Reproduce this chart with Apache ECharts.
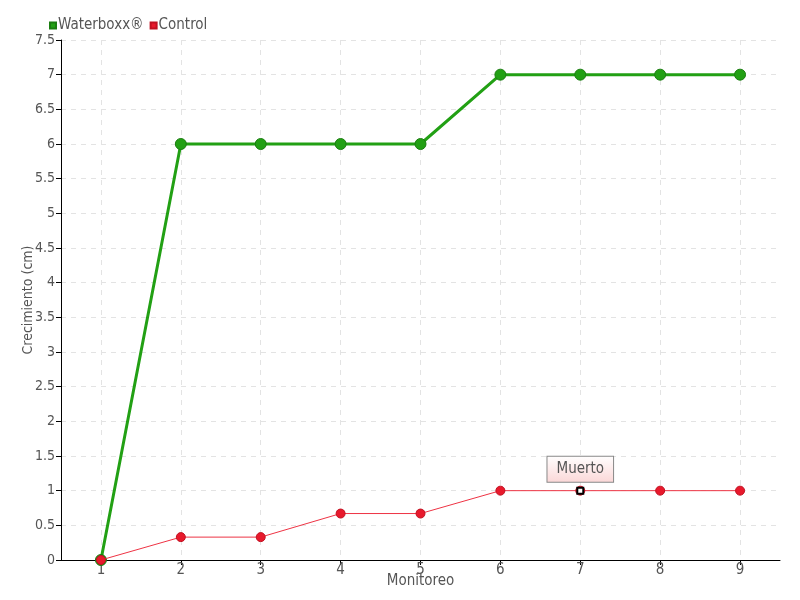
<!DOCTYPE html>
<html><head><meta charset="utf-8">
<script src="https://cdn.jsdelivr.net/npm/echarts@6/dist/echarts.min.js"></script>
<style>html,body{margin:0;padding:0;background:#fff}#c{width:800px;height:600px}</style>
</head><body><div id="c"></div>
<script>
const monitoreo = [1, 2, 3, 4, 5, 6, 7, 8, 9];
const waterboxx = [0, 6, 6, 6, 6, 7, 7, 7, 7];
const control = [0, 0.33, 0.33, 0.67, 0.67, 1, 1, 1, 1];
const note = { label: 'Muerto', x: 7, y: 1 };

const font = '"Liberation Sans Narrow", "DejaVu Sans Condensed", "DejaVu Sans", sans-serif';
const chart = echarts.init(document.getElementById('c'));
const pair = (arr) => arr.map((v, i) => [monitoreo[i], v]);
chart.setOption({
  animation: false,
  textStyle: { fontFamily: font },
  legend: {
    left: 44, top: 13, itemWidth: 6, itemHeight: 6, itemGap: 6,
    icon: 'rect',
    textStyle: { color: '#555', fontSize: 15, fontFamily: font, padding: [0, 0, 0, -3] },
    data: ['Waterboxx®', 'Control']
  },
  grid: { left: 61, right: 20, top: 40, bottom: 40, containLabel: false },
  xAxis: {
    type: 'value', min: 0.5, max: 9.5,
    name: 'Monitoreo', nameLocation: 'middle', nameGap: 14, nameMoveOverlap: false,
    nameTextStyle: { color: '#555', fontSize: 15, fontFamily: font },
    axisLine: { lineStyle: { color: '#000' } },
    axisTick: { customValues: monitoreo, length: 5, lineStyle: { color: '#000' } },
    axisLabel: { customValues: monitoreo, color: '#555', fontSize: 15, margin: 3, fontFamily: font },
    splitLine: { show: true, lineStyle: { color: '#e3e3e3', type: [5, 5] } }
  },
  yAxis: {
    type: 'value', min: 0, max: 7.5, interval: 0.5,
    name: 'Crecimiento (cm)', nameLocation: 'middle', nameGap: 26, nameMoveOverlap: false,
    nameTextStyle: { color: '#555', fontSize: 14, fontFamily: font },
    axisLine: { show: true, lineStyle: { color: '#000' } },
    axisTick: { show: true, length: 5, lineStyle: { color: '#000' } },
    axisLabel: { color: '#555', fontSize: 14, margin: 6, fontFamily: font },
    splitLine: { show: true, lineStyle: { color: '#e3e3e3', type: [5, 5] } }
  },
  series: [
    {
      name: 'Waterboxx®', type: 'line', data: pair(waterboxx),
      color: '#22a014',
      lineStyle: { width: 3, color: '#22a014' },
      symbol: 'circle', symbolSize: 11,
      itemStyle: { color: '#22a014', borderColor: '#1a7d10', borderWidth: 1 },
      z: 2
    },
    {
      name: 'Control', type: 'line', data: pair(control),
      color: '#e8192c',
      lineStyle: { width: 1, color: '#ee3344' },
      symbol: 'circle', symbolSize: 9,
      itemStyle: { color: '#e8192c', borderColor: '#c01020', borderWidth: 1 },
      z: 3,
      markPoint: {
        symbol: 'rect', symbolSize: 6,
        itemStyle: { color: '#fff', borderColor: '#000', borderWidth: 2 },
        data: [{
          coord: [note.x, note.y], value: note.label,
          label: {
            show: true, position: 'top', distance: 5, formatter: note.label,
            color: '#555', fontSize: 15, fontFamily: font,
            padding: [5, 9, 5, 9], borderColor: '#888', borderWidth: 1,
            backgroundColor: new echarts.graphic.LinearGradient(0, 0, 0, 1, [
              { offset: 0, color: '#ffffff' }, { offset: 1, color: '#fbd7d7' }
            ])
          }
        }]
      }
    }
  ]
});
</script></body></html>
